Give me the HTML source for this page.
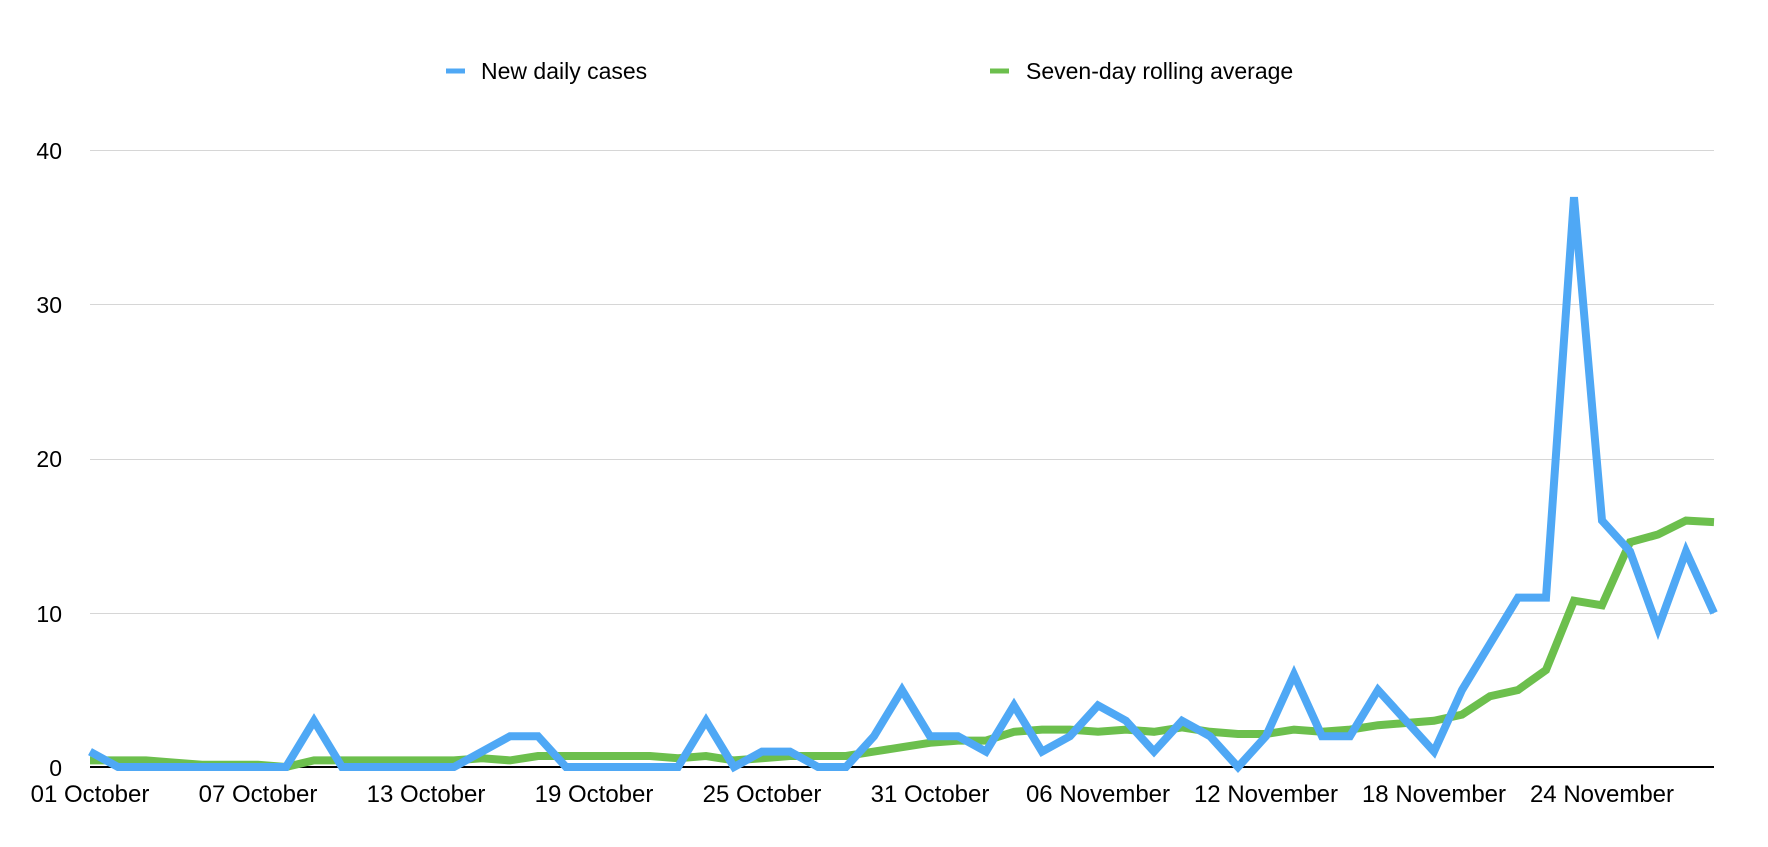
<!DOCTYPE html>
<html><head><meta charset="utf-8"><style>
html,body{margin:0;padding:0;background:#fff;}
svg text{font-family:"Liberation Sans",Arial,sans-serif;fill:#000;}
</style></head><body>
<svg id="c" width="1768" height="842" xmlns="http://www.w3.org/2000/svg">
<g stroke="#d6d6d6" stroke-width="1">
<line x1="90" y1="150.5" x2="1714" y2="150.5"/>
<line x1="90" y1="304.5" x2="1714" y2="304.5"/>
<line x1="90" y1="459.5" x2="1714" y2="459.5"/>
<line x1="90" y1="613.5" x2="1714" y2="613.5"/>
</g>
<line x1="90" y1="767" x2="1714" y2="767" stroke="#000" stroke-width="2"/>
<g font-size="23" text-anchor="end">
<text x="62" y="159">40</text>
<text x="62" y="313">30</text>
<text x="62" y="467">20</text>
<text x="62" y="622">10</text>
<text x="62" y="776">0</text>
</g>
<g font-size="24" text-anchor="middle" id="xl"></g>
<line x1="446" y1="71" x2="465" y2="71" stroke="#4fa8f5" stroke-width="5"/>
<text x="481" y="79" font-size="23">New daily cases</text>
<line x1="990" y1="71" x2="1009" y2="71" stroke="#6cbf4d" stroke-width="5"/>
<text x="1026" y="79" font-size="23">Seven-day rolling average</text>
<polyline id="g" fill="none" stroke="#6cbf4d" stroke-width="8" stroke-linejoin="miter"/>
<polyline id="b" fill="none" stroke="#4fa8f5" stroke-width="8" stroke-linejoin="miter"/>
</svg>
<script>
var d=[1,0,0,0,0,0,0,0,3,0,0,0,0,0,1,2,2,0,0,0,0,0,3,0,1,1,0,0,2,5,2,2,1,4,1,2,4,3,1,3,2,0,2,6,2,2,5,3,1,5,8,11,11,37,16,14,9,14,10];
var pre=[0,0,0,1,1,0,0];
var all=pre.concat(d);
var over={49:3.4,50:4.6,51:5.0,52:6.3,53:10.8,54:10.5,55:14.6,56:15.1,57:16.0,58:15.9};
var x0=90,dx=(1714-90)/58,y0=767,sy=15.4;
function X(i){return x0+i*dx;}function Y(v){return y0-v*sy;}
var b=[],g=[];
for(var i=0;i<d.length;i++){
 b.push(X(i).toFixed(1)+","+Y(d[i]).toFixed(1));
 var s=0;for(var k=i+1;k<=i+7;k++)s+=all[k];
 var v=(i in over)?over[i]:s/7;
 g.push(X(i).toFixed(1)+","+Y(v).toFixed(1));
}
document.getElementById('b').setAttribute('points',b.join(' '));
document.getElementById('g').setAttribute('points',g.join(' '));
var labs=["01 October","07 October","13 October","19 October","25 October","31 October","06 November","12 November","18 November","24 November"];
var xl=document.getElementById('xl'),h='';
for(var j=0;j<labs.length;j++){h+='<text x="'+X(j*6).toFixed(1)+'" y="802">'+labs[j]+'</text>';}
xl.innerHTML=h;
</script>
</body></html>
